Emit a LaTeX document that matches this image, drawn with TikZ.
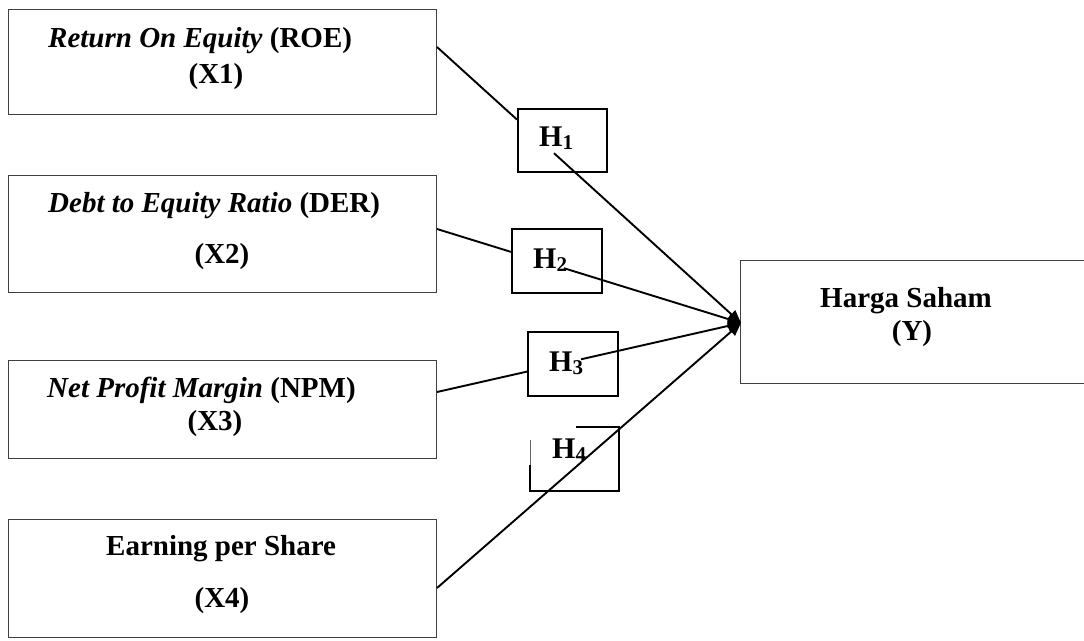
\documentclass[tikz,border=0pt]{standalone}
\usepackage{fontspec}
\setmainfont{Liberation Serif}
\usetikzlibrary{arrows.meta}
\begin{document}
\begin{tikzpicture}[x=1pt,y=-1pt,
  bigbox/.style={draw=black!75, line width=1.1pt, inner sep=0pt, anchor=north west},
  hbox/.style={draw=black, line width=2pt, inner sep=0pt, anchor=north west, minimum width=89pt, minimum height=63pt},
  conn/.style={line width=1.9pt, black},
  arr/.style={conn, -{Triangle[length=13pt,width=11pt]}},
  lbl/.style={inner sep=0pt, font=\fontsize{29}{33}\selectfont\bfseries},
  hlbl/.style={inner sep=0pt, anchor=base west, font=\fontsize{30}{33}\selectfont\bfseries}
]
\clip (0,0) rectangle (1084,640);
\fill[white] (0,0) rectangle (1084,640);

% left boxes
\node[bigbox, minimum width=428pt, minimum height=105pt] (x1) at (8,9) {};
\node[bigbox, minimum width=428pt, minimum height=117pt] (x2) at (8,175) {};
\node[bigbox, minimum width=428pt, minimum height=98pt] (x3) at (8,360) {};
\node[bigbox, minimum width=428pt, minimum height=118pt] (x4) at (8,519) {};
% Y box (runs off the right edge)
\node[bigbox, minimum width=400pt, minimum height=123pt] (y) at (740,260) {};

% texts
\node[lbl, anchor=base west] (t1a) at (48,47) {\textit{Return On Equity} (ROE)};
\node[lbl, anchor=base] (t1b) at (216,83) {(X1)};
\node[lbl, anchor=base west] (t2a) at (48,212) {\textit{Debt to Equity Ratio} (DER)};
\node[lbl, anchor=base] (t2b) at (222,263) {(X2)};
\node[lbl, anchor=base west] (t3a) at (47,397) {\textit{Net Profit Margin} (NPM)};
\node[lbl, anchor=base] (t3b) at (215,430) {(X3)};
\node[lbl, anchor=base west] (t4a) at (106,555) {Earning per Share};
\node[lbl, anchor=base] (t4b) at (222,607) {(X4)};
\node[lbl, anchor=base] (tya) at (906,307) {Harga Saham};
\node[lbl, anchor=base] (tyb) at (912,340) {(Y)};

% hypothesis boxes
\node[hbox] (h1) at (517,108) {};
\node[hbox, minimum width=90pt, minimum height=64pt] (h2) at (511,228) {};
\node[hbox, minimum width=90pt, minimum height=64pt] (h3) at (527,331) {};
\node[inner sep=0pt, anchor=north west, minimum width=89pt, minimum height=64pt] (h4) at (530,427) {};
\draw[line width=2pt] ([xshift=46pt]h4.north west) -- (h4.north east) -- (h4.south east) -- (h4.south west) -- ([yshift=-38pt]h4.north west);
\draw[line width=0.8pt, black!60] ([yshift=-13pt]h4.north west) -- ([yshift=-38pt]h4.north west);

\node[hlbl] (l1) at (539,146) {H\raisebox{-3pt}{\fontsize{21}{21}\selectfont 1}};
\node[hlbl] (l2) at (533,268) {H\raisebox{-3pt}{\fontsize{21}{21}\selectfont 2}};
\node[hlbl] (l3) at (549,371) {H\raisebox{-3pt}{\fontsize{21}{21}\selectfont 3}};
\node[hlbl] (l4) at (552,458) {H\raisebox{-3pt}{\fontsize{21}{21}\selectfont 4}};

% connector points
\coordinate (tip) at (741,323);
\coordinate (a1) at (437,47);   \coordinate (b1) at (517,119.6); \coordinate (c1) at (554,153.2);
\coordinate (a2) at (437,229);  \coordinate (b2) at (511,251.9); \coordinate (c2) at (564,268.2);
\coordinate (a3) at (437,392);  \coordinate (b3) at (527,371.6); \coordinate (c3) at (581,359.3);
\coordinate (a4) at (437,588);

\draw[conn] (a1) -- (b1);
\draw[arr] (c1) -- (tip);
\draw[conn] (a2) -- (b2);
\draw[arr] (c2) -- (tip);
\draw[conn] (a3) -- (b3);
\draw[arr] (c3) -- (tip);
\draw[arr] (a4) -- (tip);
\end{tikzpicture}
\end{document}
